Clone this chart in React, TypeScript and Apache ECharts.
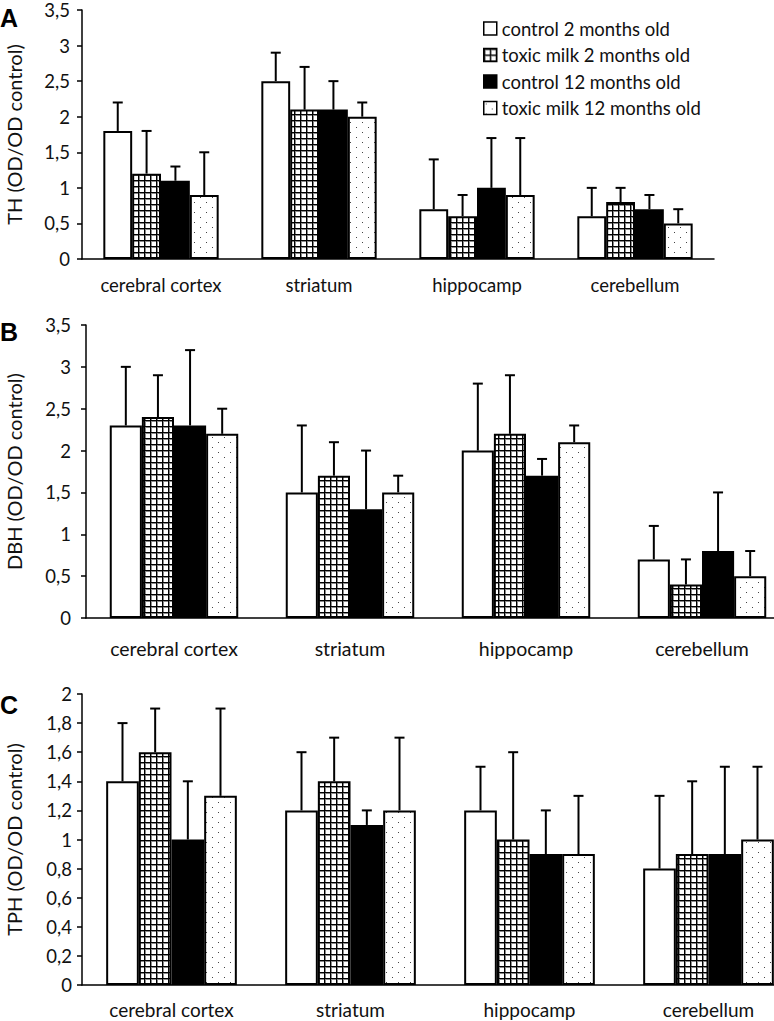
import React, { useEffect, useRef } from "react";
import * as echarts from "echarts";

const categories = ["cerebral cortex", "striatum", "hippocamp", "cerebellum"];
const seriesNames = [
  "control 2 months old",
  "toxic milk 2 months old",
  "control 12 months old",
  "toxic milk 12 months old",
];

// Panel A: TH — one row per series, one value per category
const thMeans = [
  [1.8, 2.5, 0.7, 0.6],
  [1.2, 2.1, 0.6, 0.8],
  [1.1, 2.1, 1.0, 0.7],
  [0.9, 2.0, 0.9, 0.5],
];
const thErrors = [
  [0.4, 0.4, 0.7, 0.4],
  [0.6, 0.6, 0.3, 0.2],
  [0.2, 0.4, 0.7, 0.2],
  [0.6, 0.2, 0.8, 0.2],
];

// Panel B: DBH
const dbhMeans = [
  [2.3, 1.5, 2.0, 0.7],
  [2.4, 1.7, 2.2, 0.4],
  [2.3, 1.3, 1.7, 0.8],
  [2.2, 1.5, 2.1, 0.5],
];
const dbhErrors = [
  [0.7, 0.8, 0.8, 0.4],
  [0.5, 0.4, 0.7, 0.3],
  [0.9, 0.7, 0.2, 0.7],
  [0.3, 0.2, 0.2, 0.3],
];

// Panel C: TPH
const tphMeans = [
  [1.4, 1.2, 1.2, 0.8],
  [1.6, 1.4, 1.0, 0.9],
  [1.0, 1.1, 0.9, 0.9],
  [1.3, 1.2, 0.9, 1.0],
];
const tphErrors = [
  [0.4, 0.4, 0.3, 0.5],
  [0.3, 0.3, 0.6, 0.5],
  [0.4, 0.1, 0.3, 0.6],
  [0.6, 0.5, 0.4, 0.5],
];

const FONT = "Lato";
const GAP = 0.27;

const panels = [
  {
    letter: "A",
    yName: "TH (OD/OD control)",
    means: thMeans,
    errors: thErrors,
    max: 3.5,
    interval: 0.5,
    grid: { left: 82, top: 10, width: 632, height: 249 },
    xMargin: 18,
    xFont: 18.5,
    yMargin: 12,
    nameGap: 58,
    letterTop: 5,
  },
  {
    letter: "B",
    yName: "DBH (OD/OD control)",
    means: dbhMeans,
    errors: dbhErrors,
    max: 3.5,
    interval: 0.5,
    grid: { left: 86, top: 325, width: 704, height: 293 },
    xMargin: 22,
    xFont: 19.5,
    yMargin: 15,
    nameGap: 62,
    letterTop: 319,
  },
  {
    letter: "C",
    yName: "TPH (OD/OD control)",
    means: tphMeans,
    errors: tphErrors,
    max: 2,
    interval: 0.2,
    grid: { left: 82, top: 694, width: 716, height: 291 },
    xMargin: 16,
    xFont: 19,
    yMargin: 10,
    nameGap: 58,
    letterTop: 692,
  },
];

function makeGridPattern() {
  const c = document.createElement("canvas");
  c.width = 6;
  c.height = 6;
  const ctx = c.getContext("2d")!;
  ctx.fillStyle = "#fff";
  ctx.fillRect(0, 0, 6, 6);
  ctx.fillStyle = "#000";
  ctx.fillRect(0, 0, 1, 6);
  ctx.fillRect(0, 0, 6, 1);
  ctx.fillStyle = "#888";
  ctx.fillRect(1, 1, 1, 5);
  ctx.fillRect(1, 1, 5, 1);
  return c;
}

function makeDotPattern() {
  const c = document.createElement("canvas");
  c.width = 12;
  c.height = 10;
  const ctx = c.getContext("2d")!;
  ctx.fillStyle = "#fff";
  ctx.fillRect(0, 0, 12, 10);
  ctx.fillStyle = "#444";
  ctx.fillRect(2, 2, 1, 1);
  ctx.fillRect(8, 7, 1, 1);
  return c;
}

const fmt = (v: number) => String(Number(v.toFixed(1))).replace(".", ",");

export default function App() {
  const ref = useRef<HTMLDivElement>(null);
  useEffect(() => {
    if (!ref.current) return;
    const chart = echarts.init(ref.current, undefined, { renderer: "svg" });
    const gridC = makeGridPattern();
    const dotC = makeDotPattern();
    const fills: any[] = [
      "#fff",
      { image: gridC, repeat: "repeat", imageWidth: 6, imageHeight: 6 },
      "#000",
      { image: dotC, repeat: "repeat", imageWidth: 12, imageHeight: 10 },
    ];

    const series: any[] = [];
    panels.forEach((p, pi) => {
      seriesNames.forEach((name, si) => {
        series.push({
          type: "bar",
          name,
          xAxisIndex: pi,
          yAxisIndex: pi,
          data: p.means[si],
          barGap: "0%",
          barCategoryGap: GAP * 100 + "%",
          itemStyle: { color: fills[si], borderColor: "#000", borderWidth: 2 },
          emphasis: { disabled: true },
          z: 2,
        });
      });
      const errData: number[][] = [];
      seriesNames.forEach((_, si) => {
        categories.forEach((_, ci) => {
          errData.push([ci, p.means[si][ci], Math.round((p.means[si][ci] + p.errors[si][ci]) * 100) / 100, si]);
        });
      });
      series.push({
        type: "custom",
        name: "err" + pi,
        xAxisIndex: pi,
        yAxisIndex: pi,
        data: errData,
        encode: { x: 0, y: [1, 2] },
        z: 3,
        renderItem: (params: any, api: any) => {
          const cat = api.value(0);
          const val = api.value(1);
          const top = api.value(2);
          const s = api.value(3);
          const band = api.size([1, 0])[0];
          const barW = (band * (1 - GAP)) / 4;
          const cx = api.coord([cat, 0])[0] + (s - 1.5) * barW;
          const y1 = api.coord([cat, val])[1];
          const y2 = api.coord([cat, top])[1];
          return {
            type: "group",
            children: [
              { type: "line", shape: { x1: cx, y1, x2: cx, y2 }, style: { stroke: "#000", lineWidth: 2 } },
              { type: "line", shape: { x1: cx - 5, y1: y2, x2: cx + 5, y2 }, style: { stroke: "#000", lineWidth: 2 } },
            ],
          };
        },
      });
    });

    const option: any = {
      animation: false,
      backgroundColor: "#fff",
      grid: panels.map((p) => ({ ...p.grid, containLabel: false, outerBoundsMode: "none" })),
      xAxis: panels.map((p, pi) => ({
        type: "category",
        gridIndex: pi,
        data: categories,
        axisLine: { lineStyle: { color: "#000", width: 1.5 } },
        axisTick: { length: 7, lineStyle: { color: "#000", width: 1.5 } },
        axisLabel: {
          interval: 0,
          hideOverlap: false,
          margin: p.xMargin,
          fontSize: p.xFont,
          lineHeight: 16,
          fontFamily: FONT,
          color: "#111",
        },
      })),
      yAxis: panels.map((p, pi) => ({
        type: "value",
        gridIndex: pi,
        min: 0,
        max: p.max,
        interval: p.interval,
        splitLine: { show: false },
        axisLine: { show: true, lineStyle: { color: "#000", width: 1.5 } },
        axisTick: { show: true, length: 5, lineStyle: { color: "#000", width: 1.5 } },
        axisLabel: {
          margin: p.yMargin,
          fontSize: 18.5,
          lineHeight: 12,
          fontFamily: FONT,
          color: "#111",
          formatter: fmt,
        },
        name: p.yName,
        nameLocation: "middle",
        nameRotate: 90,
        nameGap: p.nameGap,
        nameTextStyle: { fontSize: 20, fontFamily: FONT, color: "#111" },
      })),
      legend: {
        data: seriesNames,
        orient: "vertical",
        left: 483,
        top: 19,
        padding: 0,
        itemWidth: 13,
        itemHeight: 13,
        itemGap: 7.5,
        icon: "rect",
        selectedMode: false,
        itemStyle: { borderColor: "#000", borderWidth: 1.5 },
        textStyle: { fontSize: 18.5, fontFamily: FONT, color: "#111" },
      },
      graphic: panels.map((p) => ({
        type: "text",
        left: 0,
        top: p.letterTop,
        style: { text: p.letter, font: 'bold 25px "Liberation Sans"', fill: "#000" },
      })),
      series,
    };
    chart.setOption(option);
    return () => chart.dispose();
  }, []);
  return (
    <div
      ref={ref}
      style={{ position: "absolute", left: 0, top: 0, width: 774, height: 1021 }}
    />
  );
}
